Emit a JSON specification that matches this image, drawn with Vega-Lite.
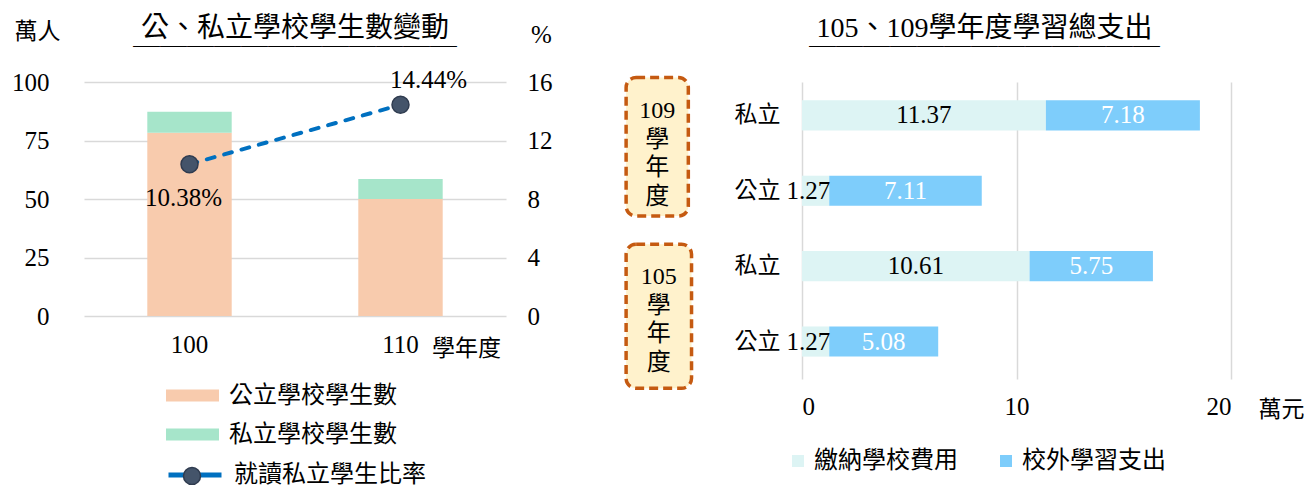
{
  "$schema": "https://vega.github.io/schema/vega-lite/v6.json",
  "background": "white",
  "padding": {"left": 11, "top": 14, "right": 0, "bottom": 0},
  "spacing": 72,
  "resolve": {"scale": {"color": "independent", "stroke": "independent", "fill": "independent"}, "legend": {"color": "independent", "stroke": "independent", "fill": "independent"}},
  "config": {
    "view": {"stroke": null},
    "font": "Liberation Serif, Noto Sans CJK TC",
    "axis": {
      "labelFont": "Liberation Serif, Noto Sans CJK TC",
      "labelFontSize": 25,
      "labelColor": "#000000",
      "titleFont": "Noto Sans CJK TC",
      "titleFontWeight": "normal",
      "titleColor": "#000000",
      "domain": false,
      "ticks": false,
      "gridColor": "#D9D9D9",
      "gridWidth": 1.5
    },
    "legend": {
      "labelFont": "Noto Sans CJK TC",
      "labelFontSize": 24,
      "labelColor": "#000000",
      "labelLimit": 0,
      "padding": 0
    },
    "title": {
      "font": "Liberation Serif, Noto Sans CJK TC",
      "fontSize": 28,
      "fontWeight": "normal",
      "color": "#000000",
      "subtitleFont": "Noto Sans CJK TC",
      "subtitleFontSize": 27,
      "subtitleColor": "#000000",
      "subtitlePadding": -7
    }
  },
  "hconcat": [
    {
      "width": 422,
      "height": 234,
      "title": {"text": "公、私立學校學生數變動", "subtitle": "────────────", "anchor": "middle", "offset": -42},
      "layer": [
        {
          "data": {"values": [
            {"year": "100", "series": "公立學校學生數", "count": 78.3},
            {"year": "100", "series": "私立學校學生數", "count": 9.0},
            {"year": "110", "series": "公立學校學生數", "count": 50.0},
            {"year": "110", "series": "私立學校學生數", "count": 8.6}
          ]},
          "mark": {"type": "bar"},
          "encoding": {
            "x": {
              "field": "year", "type": "nominal",
              "scale": {"paddingInner": 0.6, "paddingOuter": 0.3},
              "axis": {"labelAngle": 0, "labelPadding": 16, "grid": false, "title": "學年度", "titleX": 382, "titleY": 32, "titleBaseline": "middle", "titleAlign": "center", "titleFontSize": 23}
            },
            "y": {
              "field": "count", "type": "quantitative", "stack": "zero",
              "scale": {"domain": [0, 100], "nice": false},
              "axis": {"values": [0, 25, 50, 75, 100], "grid": true, "labelPadding": 35, "title": "萬人", "titleAngle": 0, "titleX": -47, "titleY": -51, "titleAlign": "center", "titleBaseline": "middle", "titleFontSize": 23}
            },
            "color": {
              "field": "series", "type": "nominal",
              "scale": {"domain": ["公立學校學生數", "私立學校學生數"], "range": ["#F8CBAD", "#A6E5CA"]},
              "legend": {"orient": "none", "legendX": 82, "legendY": 287, "title": null, "symbolType": "M-1,-0.23H1V0.23H-1Z", "symbolSize": 2809, "symbolStrokeWidth": 0, "rowPadding": -13, "labelOffset": 10}
            },
            "order": {"field": "series", "sort": "ascending"}
          }
        },
        {
          "data": {"values": [
            {"year": "100", "rate": 10.38, "label": "10.38%", "name": "就讀私立學生比率", "dot": "就讀私立學生比率"},
            {"year": "110", "rate": 14.44, "label": "14.44%", "name": "就讀私立學生比率", "dot": "就讀私立學生比率"}
          ]},
          "encoding": {
            "x": {"field": "year", "type": "nominal"},
            "y": {
              "field": "rate", "type": "quantitative",
              "scale": {"domain": [0, 16], "nice": false},
              "axis": {"orient": "right", "values": [0, 4, 8, 12, 16], "grid": false, "labelPadding": 21, "title": "%", "titleFont": "Liberation Serif", "titleAngle": 0, "titleX": 35, "titleY": -48, "titleAlign": "center", "titleBaseline": "middle", "titleFontSize": 25}
            }
          },
          "layer": [
            {
              "mark": {"type": "line", "strokeDash": [8, 10], "strokeWidth": 4, "strokeCap": "round"},
              "encoding": {
                "stroke": {
                  "field": "name", "type": "nominal",
                  "scale": {"range": ["#0070C0"]},
                  "legend": {"orient": "none", "legendX": 82, "legendY": 364, "title": null, "symbolType": "stroke", "symbolSize": 2809, "symbolStrokeWidth": 5, "labelOffset": 10}
                }
              }
            },
            {
              "mark": {"type": "point", "filled": true, "size": 289, "stroke": "#2F3B4F", "strokeWidth": 1.5, "opacity": 1},
              "encoding": {
                "fill": {
                  "field": "dot", "type": "nominal",
                  "scale": {"range": ["#44546A"]},
                  "legend": {"orient": "none", "legendX": 96, "legendY": 382, "title": null, "symbolType": "circle", "symbolSize": 289, "symbolStrokeColor": "#2F3B4F", "symbolStrokeWidth": 1.5, "labelExpr": "''"}
                }
              }
            },
            {
              "transform": [{"filter": "datum.year == '100'"}],
              "mark": {"type": "text", "font": "Liberation Serif", "fontSize": 25, "dx": -6, "dy": 34, "color": "#000000"},
              "encoding": {"text": {"field": "label"}}
            },
            {
              "transform": [{"filter": "datum.year == '110'"}],
              "mark": {"type": "text", "font": "Liberation Serif", "fontSize": 25, "dx": 28, "dy": -25, "color": "#000000"},
              "encoding": {"text": {"field": "label"}}
            }
          ]
        }
      ],
      "resolve": {"scale": {"y": "independent"}}
    },
    {
      "width": 429,
      "height": 297,
      "title": {"text": "105、109學年度學習總支出", "subtitle": "─────────────", "anchor": "middle", "dx": -32, "offset": 14},
      "layer": [
        {
          "data": {"values": [
            {"cat": "109私立", "item": "繳納學校費用", "amount": 11.37},
            {"cat": "109私立", "item": "校外學習支出", "amount": 7.18},
            {"cat": "109公立", "item": "繳納學校費用", "amount": 1.27},
            {"cat": "109公立", "item": "校外學習支出", "amount": 7.11},
            {"cat": "105私立", "item": "繳納學校費用", "amount": 10.61},
            {"cat": "105私立", "item": "校外學習支出", "amount": 5.75},
            {"cat": "105公立", "item": "繳納學校費用", "amount": 1.27},
            {"cat": "105公立", "item": "校外學習支出", "amount": 5.08}
          ]},
          "encoding": {
            "y": {
              "field": "cat", "type": "nominal",
              "scale": {"domain": ["109私立", "109公立", "105私立", "105公立"], "paddingInner": 0.6, "paddingOuter": 0.27, "align": 0.45},
              "axis": {"labelExpr": "substring(datum.label, 3)", "title": null, "grid": false, "labelPadding": 22, "labelFont": "Noto Sans CJK TC", "labelFontSize": 23}
            }
          },
          "layer": [
            {
              "mark": {"type": "bar"},
              "encoding": {
                "x": {
                  "field": "amount", "type": "quantitative", "stack": "zero",
                  "scale": {"domain": [0, 20], "nice": false},
                  "axis": {"values": [0, 10, 20], "grid": true, "labelPadding": 15, "title": "萬元", "titleX": 479, "titleY": 30, "titleAlign": "center", "titleBaseline": "middle", "titleFontSize": 23}
                },
                "color": {
                  "field": "item", "type": "nominal",
                  "scale": {"domain": ["繳納學校費用", "校外學習支出"], "range": ["#DDF4F4", "#7ECDFB"]},
                  "legend": {"orient": "none", "direction": "horizontal", "legendX": -16, "legendY": 367, "title": null, "symbolType": "square", "symbolSize": 144, "symbolStrokeWidth": 0, "labelOffset": 4, "columnPadding": 36}
                },
                "order": {"field": "item", "sort": "descending"}
              }
            },
            {
              "mark": {"type": "text", "font": "Liberation Serif", "fontSize": 25},
              "encoding": {
                "x": {"field": "amount", "type": "quantitative", "stack": "zero", "bandPosition": 0.5},
                "order": {"field": "item", "sort": "descending"},
                "text": {"field": "amount", "type": "quantitative", "format": ".2f"},
                "color": {"condition": {"test": "datum.item == '校外學習支出'", "value": "#FFFFFF"}, "value": "#000000"},
                "opacity": {"condition": {"test": "datum.item == '繳納學校費用' && indexof(datum.cat, '公立') >= 0", "value": 0}, "value": 1}
              }
            },
            {
              "transform": [{"filter": "datum.item == '繳納學校費用' && indexof(datum.cat, '公立') >= 0"}],
              "mark": {"type": "text", "font": "Liberation Serif", "fontSize": 25, "align": "right", "dx": 1, "color": "#000000"},
              "encoding": {
                "x": {"field": "amount", "type": "quantitative", "stack": null},
                "text": {"field": "amount", "type": "quantitative", "format": ".2f"}
              }
            }
          ]
        },
        {
          "data": {"values": [{}]},
          "mark": {"type": "rect", "cornerRadius": 10, "fill": "#FFF2CC", "stroke": "#C55A11", "strokeWidth": 3.5, "strokeDash": [9, 5]},
          "encoding": {
            "x": {"datum": -8.2, "type": "quantitative", "scale": {"domain": [0, 20], "nice": false}},
            "x2": {"datum": -5.3},
            "y": {"datum": -0.06, "type": "quantitative", "scale": {"domain": [0, 4], "reverse": true, "nice": false, "zero": false}, "axis": null},
            "y2": {"datum": 1.805}
          }
        },
        {
          "data": {"values": [{}]},
          "mark": {"type": "rect", "cornerRadius": 10, "fill": "#FFF2CC", "stroke": "#C55A11", "strokeWidth": 3.5, "strokeDash": [9, 5]},
          "encoding": {
            "x": {"datum": -8.2, "type": "quantitative", "scale": {"domain": [0, 20], "nice": false}},
            "x2": {"datum": -5.15},
            "y": {"datum": 2.186, "type": "quantitative", "scale": {"domain": [0, 4], "reverse": true, "nice": false, "zero": false}, "axis": null},
            "y2": {"datum": 4.125}
          }
        },
        {
          "data": {"values": [{}]},
          "mark": {"type": "text", "font": "Liberation Serif, Noto Sans CJK TC", "fontSize": 24, "lineHeight": 28.5, "baseline": "middle", "color": "#000000"},
          "encoding": {
            "x": {"datum": -6.75, "type": "quantitative", "scale": {"domain": [0, 20], "nice": false}},
            "y": {"datum": 0.394, "type": "quantitative", "scale": {"domain": [0, 4], "reverse": true, "nice": false, "zero": false}, "axis": null},
            "text": {"value": ["109", "學", "年", "度"]}
          }
        },
        {
          "data": {"values": [{}]},
          "mark": {"type": "text", "font": "Liberation Serif, Noto Sans CJK TC", "fontSize": 24, "lineHeight": 28.5, "baseline": "middle", "color": "#000000"},
          "encoding": {
            "x": {"datum": -6.68, "type": "quantitative", "scale": {"domain": [0, 20], "nice": false}},
            "y": {"datum": 2.63, "type": "quantitative", "scale": {"domain": [0, 4], "reverse": true, "nice": false, "zero": false}, "axis": null},
            "text": {"value": ["105", "學", "年", "度"]}
          }
        }
      ],
      "resolve": {"scale": {"y": "independent"}}
    }
  ]
}
